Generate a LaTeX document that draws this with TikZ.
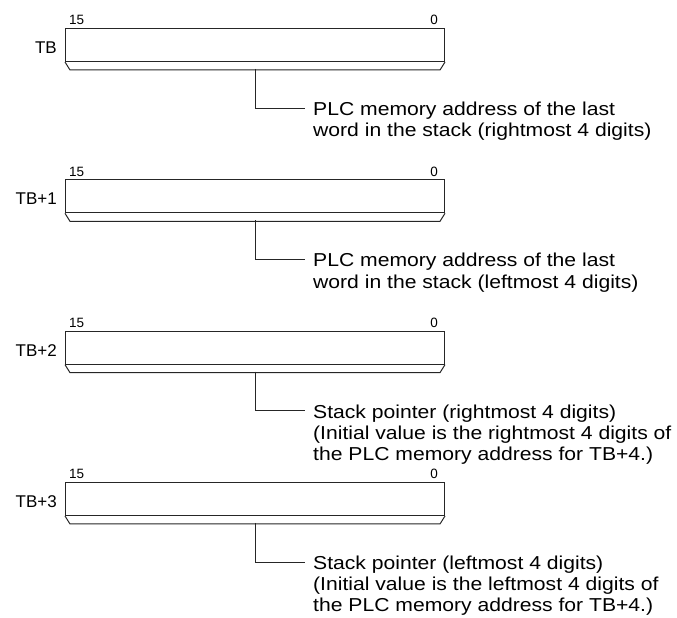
\documentclass[tikz,border=0pt]{standalone}
\usepackage{fontspec}
\setmainfont{Liberation Sans}
\newfontfamily\widefont[FakeStretch=1.13]{Liberation Sans}
\usetikzlibrary{calc}
\tikzset{
  wordbox/.style={draw=black!85, line width=1pt, minimum width=379pt, minimum height=33pt, inner sep=0pt, anchor=north west},
  strip/.style={draw=black!85, line width=1pt},
  leader/.style={draw=black!85, line width=0.9pt},
  bitlbl/.style={font=\fontsize{13.5}{14}\selectfont, inner sep=0pt},
  wordlbl/.style={font=\fontsize{17}{18}\selectfont, inner sep=0pt, anchor=east},
  desc/.style={font=\widefont\fontsize{18.7}{21.2}\selectfont, inner sep=0pt, anchor=base west, align=left}
}
\begin{document}
\begin{tikzpicture}[x=1pt,y=-1pt]
\useasboundingbox (0,0) rectangle (677,618);
\foreach \i/\n/\lbl/\txt in {
  0/1/TB/{PLC memory address of the last\\word in the stack (rightmost 4 digits)},
  1/1/TB+1/{PLC memory address of the last\\word in the stack (leftmost 4 digits)},
  2/2/TB+2/{Stack pointer (rightmost 4 digits)\\(Initial value is the rightmost 4 digits of\\the PLC memory address for TB+4.)},
  3/2/TB+3/{Stack pointer (leftmost 4 digits)\\(Initial value is the leftmost 4 digits of\\the PLC memory address for TB+4.)}} {
  \pgfmathsetmacro{\T}{28+151.33*\i}
  \pgfmathsetmacro{\B}{\T+87.5+21.2*\n}
  \node[wordbox] (box\i) at (65,\T) {};
  \node[bitlbl, anchor=base west] (hi\i) at (69,\T-3) {15};
  \node[bitlbl, anchor=base east] (lo\i) at (438,\T-3) {0};
  \node[wordlbl] (lbl\i) at (57,\T+19.5) {\lbl};
  \draw[strip] (box\i.south west) -- ($(box\i.south west)+(5,8)$) -- ($(box\i.south east)+(-5,8)$) -- (box\i.south east);
  \coordinate (ls\i) at (255,\T+41);
  \coordinate (le\i) at (305,\T+80);
  \node[desc] (txt\i) at (313,\B) {\txt};
  \draw[leader] (ls\i) |- (le\i);
}
\end{tikzpicture}
\end{document}
